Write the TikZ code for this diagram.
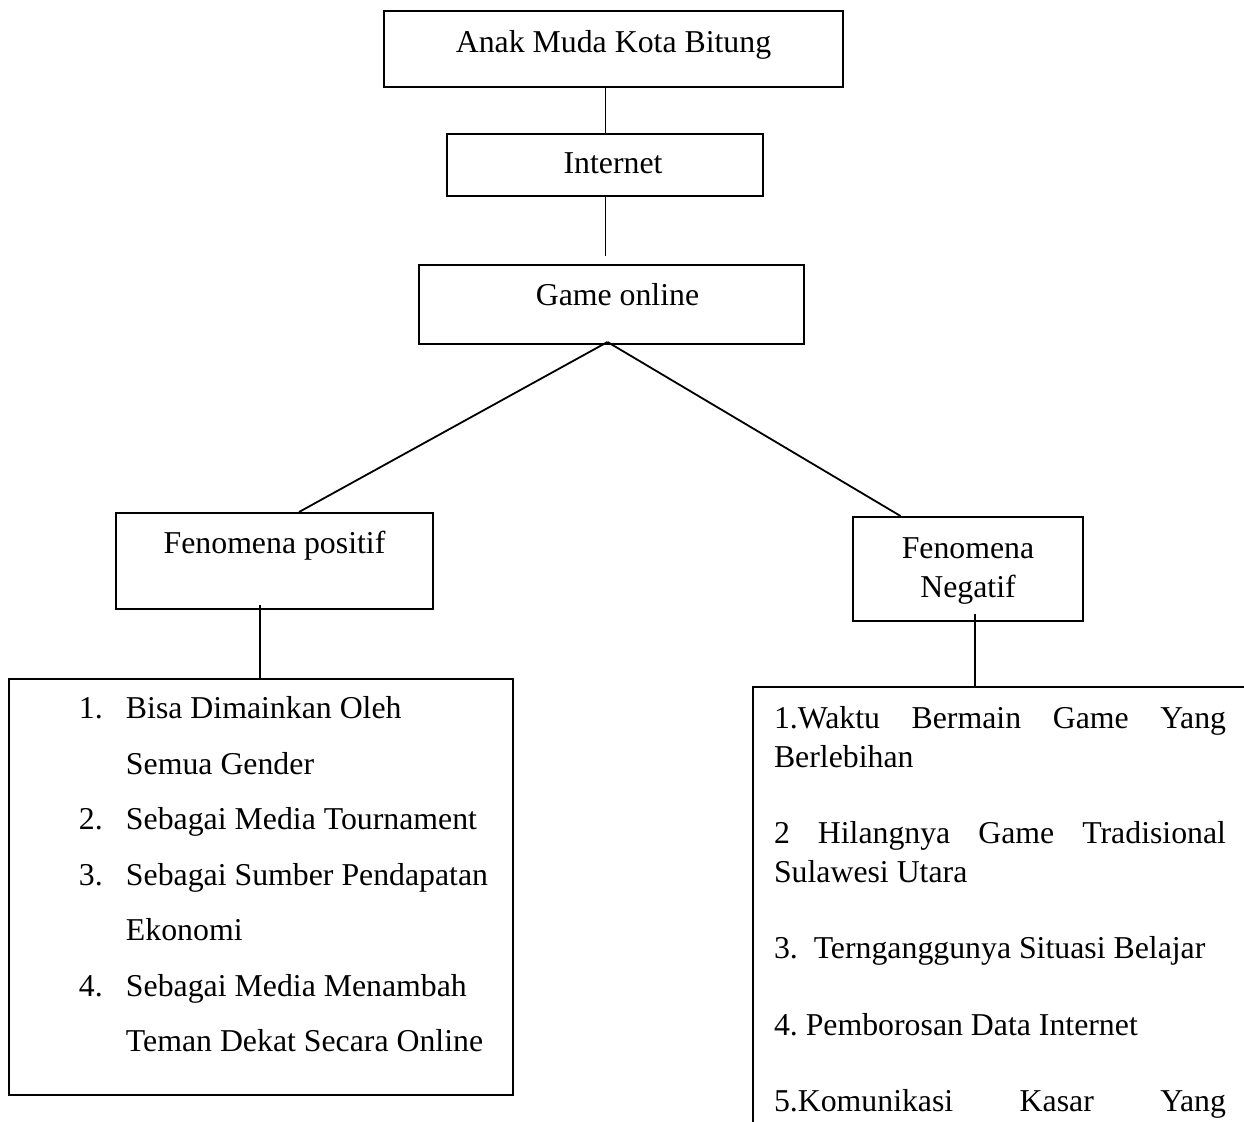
\documentclass[tikz,border=0pt]{standalone}
\usepackage{fontspec}
\setmainfont{Liberation Serif}
\usetikzlibrary{calc}
\frenchspacing

\newcommand{\listnum}[1]{\hspace*{35pt}\makebox[23.5pt][l]{#1}}
\newcommand{\listcont}{\hspace*{58.5pt}}

\begin{document}
\begin{tikzpicture}[x=0.5pt, y=-0.5pt,
    box/.style={draw, line width=1pt, inner xsep=0pt, inner ysep=0pt, anchor=north west, align=center},
    link/.style={line width=1pt},
    thinlink/.style={line width=0.5pt},
    font=\fontsize{15.9}{19.5}\selectfont]
    \useasboundingbox (0,0) rectangle (1244,1122);
    \clip (0,0) rectangle (1244,1122);

    % top chain
    \node[box, minimum width=229.5pt, text height=21pt, text depth=17pt] (anak) at (383,10) {Anak Muda Kota Bitung};
    \node[box, minimum width=158pt, text height=20pt, text depth=11pt] (internet) at (446,133) {\hspace*{8pt}Internet};
    \node[box, minimum width=192.5pt, text height=20.5pt, text depth=19pt] (game) at (418,264) {\hspace*{6pt}Game online};

    \draw[thinlink] (anak.south -| internet.north) -- (internet.north);
    \draw[thinlink] (internet.south) -- ($(internet.south |- game.north)+(0,-8)$);

    % two sides
    \node[box, minimum width=158.5pt, text height=20.5pt, text depth=27.5pt] (positif) at (115,512) {Fenomena positif};
    \node[box, text width=115pt, text height=21pt, text depth=31pt] (negatif) at (852,516) {Fenomena\\Negatif};

    \coordinate (apex) at ($(game.south)+(-4,-3)$);
    \draw[line width=0.9pt] (apex) -- ($(positif.north west)!0.577!(positif.north east)$);
    \draw[line width=0.9pt] (apex) -- ($(negatif.north west)!0.209!(negatif.north east)$);

    % lists
    \node[box, align=left, text width=252pt, text height=20pt, text depth=188pt,
          font=\fontsize{15.9}{27.75}\selectfont] (poslist) at (8,678) {%
        \spaceskip=0pt\xspaceskip=0pt
        \listnum{1.}Bisa Dimainkan Oleh\\
        \listcont Semua Gender\\
        \listnum{2.}Sebagai Media Tournament\\
        \listnum{3.}Sebagai Sumber Pendapatan\\
        \listcont Ekonomi\\
        \listnum{4.}Sebagai Media Menambah\\
        \listcont Teman Dekat Secara Online};
    \node[box, align=left, inner xsep=10.5pt, text width=253pt, text height=21pt, text depth=216pt,
          font=\fontsize{15.9}{19.15}\selectfont] (neglist) at (752,686) {%
        \spaceskip=0pt\xspaceskip=0pt
        \makebox[226pt][s]{1.Waktu Bermain Game Yang}\\
        Berlebihan\\[19.15pt]
        \makebox[226pt][s]{2 Hilangnya Game Tradisional}\\
        Sulawesi Utara\\[19.15pt]
        3.\ \ Ternganggunya Situasi Belajar\\[19.15pt]
        4. Pemborosan Data Internet\\[19.15pt]
        \makebox[226pt][s]{5.Komunikasi Kasar Yang}};

    \coordinate (pj) at ($(positif.south)+(-14.5,-5)$);
    \draw[link] (pj) -- (pj |- poslist.north);
    \coordinate (nj) at ($(negatif.south)+(7,-8)$);
    \draw[link] (nj) -- (nj |- neglist.north);
\end{tikzpicture}
\end{document}
